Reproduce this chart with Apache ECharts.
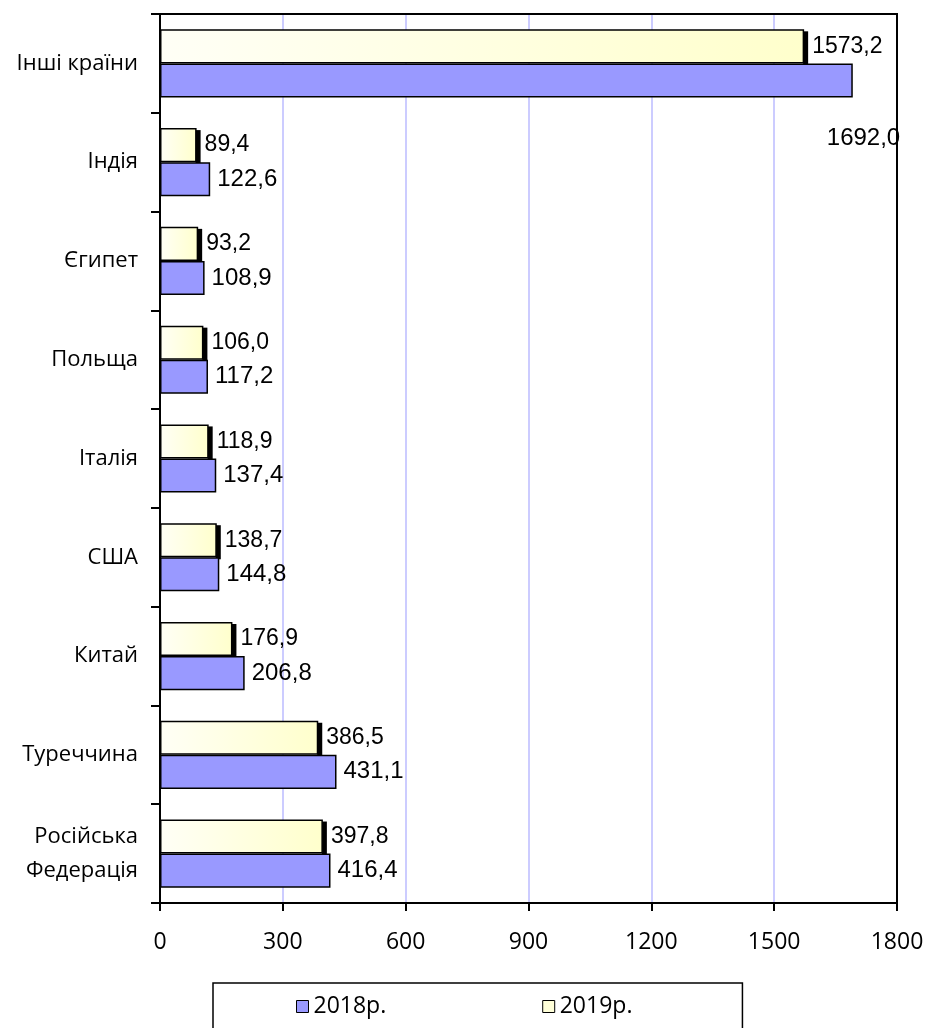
<!DOCTYPE html>
<html>
<head>
<meta charset="utf-8">
<script src="https://cdn.jsdelivr.net/npm/echarts@6/dist/echarts.min.js"></script>
<style>
html,body{margin:0;padding:0;background:#fff;}
#chart{width:927px;height:1028px;}
</style>
</head>
<body>
<div id="chart"></div>
<script>
const categories = ['Російська\nФедерація','Туреччина','Китай','США','Італія','Польща','Єгипет','Індія','Інші країни'];
const values2018 = [416.4, 431.1, 206.8, 144.8, 137.4, 117.2, 108.9, 122.6, 1692.0];
const values2019 = [397.8, 386.5, 176.9, 138.7, 118.9, 106.0, 93.2, 89.4, 1573.2];
const seriesNames = ['2018р.', '2019р.'];
const xTicks = {min: 0, max: 1800, interval: 300};

const fmt = v => Number(v).toFixed(1).replace('.', ',');
const labelFont = 'Liberation Sans, Arial, sans-serif';
const axisFont = 'Open Sans, sans-serif';
const GAP = 0.31;

const data2018 = values2018.map((v, i) => {
  if (i === values2018.length - 1) {
    return {value: v, label: {offset: [-33, 58]}};
  }
  return v;
});
const shadowData = values2019.map((v, i) => [v, i]);

const chart = echarts.init(document.getElementById('chart'), null, {renderer: 'canvas'});
chart.setOption({
  animation: false,
  backgroundColor: '#fff',
  grid: {left: 160, right: 30, top: 14, bottom: 125},
  xAxis: [{
    type: 'value', min: xTicks.min, max: xTicks.max, interval: xTicks.interval,
    axisLine: {show: true, onZero: false, lineStyle: {color: '#000', width: 2}},
    axisTick: {show: true, length: 8, lineStyle: {color: '#000', width: 2}},
    axisLabel: {color: '#000', fontFamily: axisFont, fontSize: 23, margin: 28, formatter: v => String(v)},
    splitLine: {show: true, lineStyle: {color: '#CCCCFF', width: 2}}
  }],
  yAxis: [{
    type: 'category', data: categories,
    axisLine: {show: true, onZero: false, lineStyle: {color: '#000', width: 2}},
    axisTick: {show: true, length: 9, alignWithLabel: false, lineStyle: {color: '#000', width: 2}},
    axisLabel: {color: '#000', fontFamily: axisFont, fontSize: 22, margin: 22, lineHeight: 34, align: 'right', padding: [4, 0, 0, 0]},
    splitLine: {show: false}
  }],
  legend: {
    data: [
      {name: seriesNames[0], itemStyle: {color: '#9999FF', borderColor: '#000', borderWidth: 1, shadowBlur: 0, shadowOffsetX: 0, shadowOffsetY: 0, shadowColor: 'transparent'}},
      {name: seriesNames[1], itemStyle: {color: '#FFFFD8', borderColor: '#000', borderWidth: 1, shadowBlur: 0, shadowOffsetX: 0, shadowOffsetY: 0, shadowColor: 'transparent'}}
    ],
    left: 213, top: 983,
    icon: 'rect', itemWidth: 12, itemHeight: 12, itemGap: 156,
    padding: [12, 110, 30, 83],
    borderColor: '#000', borderWidth: 1.5,
    textStyle: {color: '#000', fontFamily: axisFont, fontSize: 23}
  },
  series: [
    {
      name: 'shadow', type: 'custom', data: shadowData, z: 1, silent: true,
      encode: {x: 0, y: 1},
      renderItem: function (params, api) {
        const end = api.coord([api.value(0), api.value(1)]);
        const band = api.size([0, 1])[1];
        const barH = band * (1 - GAP) / 2;
        return {
          type: 'rect',
          shape: {x: end[0] - 1, y: end[1] - barH + 2, width: 5, height: barH},
          style: {fill: '#000'}
        };
      }
    },
    {
      name: seriesNames[1], type: 'bar', data: values2019, z: 2,
      barCategoryGap: (GAP * 100) + '%', barGap: '0%',
      itemStyle: {
        color: new echarts.graphic.LinearGradient(0, 0, 1, 0, [{offset: 0, color: '#FFFFF6'}, {offset: 1, color: '#FFFFCC'}]),
        borderColor: '#000', borderWidth: 1.5
      },
      label: {show: true, position: 'right', distance: 8, color: '#000', fontFamily: labelFont, fontSize: 23, formatter: p => fmt(p.value)}
    },
    {
      name: seriesNames[0], type: 'bar', data: data2018, z: 3,
      barCategoryGap: (GAP * 100) + '%', barGap: '0%',
      itemStyle: {color: '#9999FF', borderColor: '#000', borderWidth: 1.5},
      label: {show: true, position: 'right', distance: 7, color: '#000', fontFamily: labelFont, fontSize: 24, formatter: p => fmt(p.value)}
    }
  ]
});

// plot-area frame (top and right edges), taken from the grid's own layout
const gridRect = chart.getModel().getComponent('grid', 0).coordinateSystem.getRect();
chart.setOption({
  graphic: [{
    type: 'rect', silent: true, z: 1,
    shape: {x: gridRect.x, y: gridRect.y, width: gridRect.width, height: gridRect.height},
    style: {fill: 'none', stroke: '#000', lineWidth: 2}
  }]
});
</script>
</body>
</html>
